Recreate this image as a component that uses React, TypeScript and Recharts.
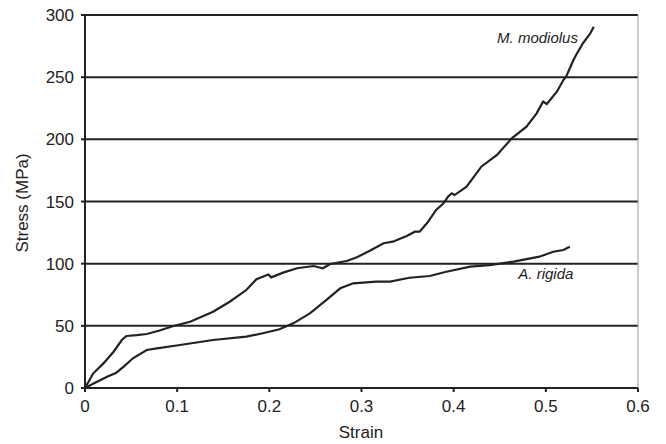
import React from "react";
import {
	CartesianGrid,
	Line,
	LineChart,
	ReferenceDot,
	ReferenceLine,
	XAxis,
	YAxis,
} from "recharts";

// values
const strainTicks = [0, 0.1, 0.2, 0.3, 0.4, 0.5, 0.6];
const stressTicks = [0, 50, 100, 150, 200, 250, 300];

const modiolusStrain = [
	0, 0.009, 0.02, 0.031, 0.04, 0.045, 0.056, 0.067, 0.08, 0.096, 0.114, 0.139,
	0.157, 0.175, 0.186, 0.199, 0.202, 0.215, 0.23, 0.248, 0.258, 0.266, 0.284,
	0.295, 0.309, 0.324, 0.334, 0.349, 0.358, 0.363, 0.371, 0.381, 0.389, 0.394,
	0.398, 0.401, 0.414, 0.43, 0.447, 0.463, 0.479, 0.49, 0.497, 0.501, 0.512,
	0.519, 0.522, 0.53, 0.533, 0.54, 0.548, 0.552,
];
const modiolusStress = [
	0, 11.8, 19.8, 29.2, 38.6, 41.8, 42.5, 43.4, 46, 49.9, 53.3, 61.4, 69.4, 78.8,
	87.5, 91.3, 89, 92.8, 96.3, 98.1, 96.3, 99.7, 102.1, 105.1, 110.4, 116.4,
	117.7, 122.3, 125.7, 125.7, 132.5, 143.2, 148.5, 154, 156.6, 155.2, 161.9,
	178, 187.4, 200.8, 210.2, 220.9, 230.3, 228.4, 238.3, 247.7, 250.4, 263.8,
	268, 277, 285, 290.6,
];

const rigidaStrain = [
	0, 0.013, 0.024, 0.034, 0.042, 0.052, 0.067, 0.078, 0.103, 0.139, 0.175,
	0.193, 0.211, 0.226, 0.244, 0.262, 0.277, 0.291, 0.316, 0.331, 0.352, 0.374,
	0.392, 0.418, 0.439, 0.465, 0.493, 0.508, 0.519, 0.526,
];
const rigidaStress = [
	0, 5, 9.1, 12.3, 17.2, 23.9, 30.6, 31.9, 34.6, 38.6, 41.3, 44, 47.2, 52, 60,
	70.8, 80.2, 84.2, 85.5, 85.5, 88.7, 90.1, 93.5, 97.6, 98.9, 101.6, 105.6,
	109.6, 111, 113.6,
];

const modiolusData = modiolusStrain.map((x, i) => ({ x, y: modiolusStress[i] }));
const rigidaData = rigidaStrain.map((x, i) => ({ x, y: rigidaStress[i] }));

const INK = "#222";
const FONT = "'Liberation Sans', Arial, sans-serif";

const fmtStrain = (v: number) => (v === 0 ? "0" : String(Math.round(v * 10) / 10));

export default function App() {
	return (
		<div style={{ position: "absolute", left: 0, top: 0, fontFamily: FONT }}>
			<LineChart
				width={666}
				height={444}
				margin={{ top: 15, right: 28, left: 0, bottom: 0 }}
			>
				<CartesianGrid vertical={false} stroke={INK} strokeWidth={2} />
				<XAxis
					type="number"
					dataKey="x"
					domain={[0, 0.6]}
					ticks={strainTicks}
					tickFormatter={fmtStrain}
					height={56}
					tickSize={4}
					tickMargin={8}
					axisLine={{ stroke: INK, strokeWidth: 2 }}
					tickLine={{ stroke: INK, strokeWidth: 2 }}
					tick={{ fill: INK, fontSize: 17, fontFamily: FONT }}
					allowDataOverflow
				/>
				<YAxis
					type="number"
					domain={[0, 300]}
					ticks={stressTicks}
					width={85}
					tickSize={4}
					tickMargin={7}
					axisLine={{ stroke: INK, strokeWidth: 2 }}
					tickLine={{ stroke: INK, strokeWidth: 2 }}
					tick={{ fill: INK, fontSize: 17, fontFamily: FONT }}
				/>
				<ReferenceLine x={0.6} stroke="#999" strokeWidth={1} />
				<Line
					data={modiolusData}
					dataKey="y"
					type="linear"
					stroke={INK}
					strokeWidth={2.2}
					dot={false}
					isAnimationActive={false}
				/>
				<Line
					data={rigidaData}
					dataKey="y"
					type="linear"
					stroke={INK}
					strokeWidth={2.2}
					dot={false}
					isAnimationActive={false}
				/>
				<ReferenceDot
					x={0.491}
					y={282}
					r={0}
					fill="none"
					stroke="none"
					label={{
						value: "M. modiolus",
						position: "center",
						fill: INK,
						fontSize: 15,
						fontStyle: "italic",
						fontFamily: FONT,
					}}
				/>
				<ReferenceDot
					x={0.5}
					y={92}
					r={0}
					fill="none"
					stroke="none"
					label={{
						value: "A. rigida",
						position: "center",
						fill: INK,
						fontSize: 15,
						fontStyle: "italic",
						fontFamily: FONT,
					}}
				/>
			</LineChart>
			{/* axis titles */}
			<svg
				width={666}
				height={444}
				style={{ position: "absolute", left: 0, top: 0, pointerEvents: "none" }}
			>
				<text
					x={361}
					y={438}
					textAnchor="middle"
					fill={INK}
					fontSize={17}
					fontFamily={FONT}
				>
					Strain
				</text>
				<text
					x={28}
					y={203}
					textAnchor="middle"
					fill={INK}
					fontSize={17}
					fontFamily={FONT}
					transform="rotate(-90 28 203)"
				>
					Stress (MPa)
				</text>
			</svg>
		</div>
	);
}
